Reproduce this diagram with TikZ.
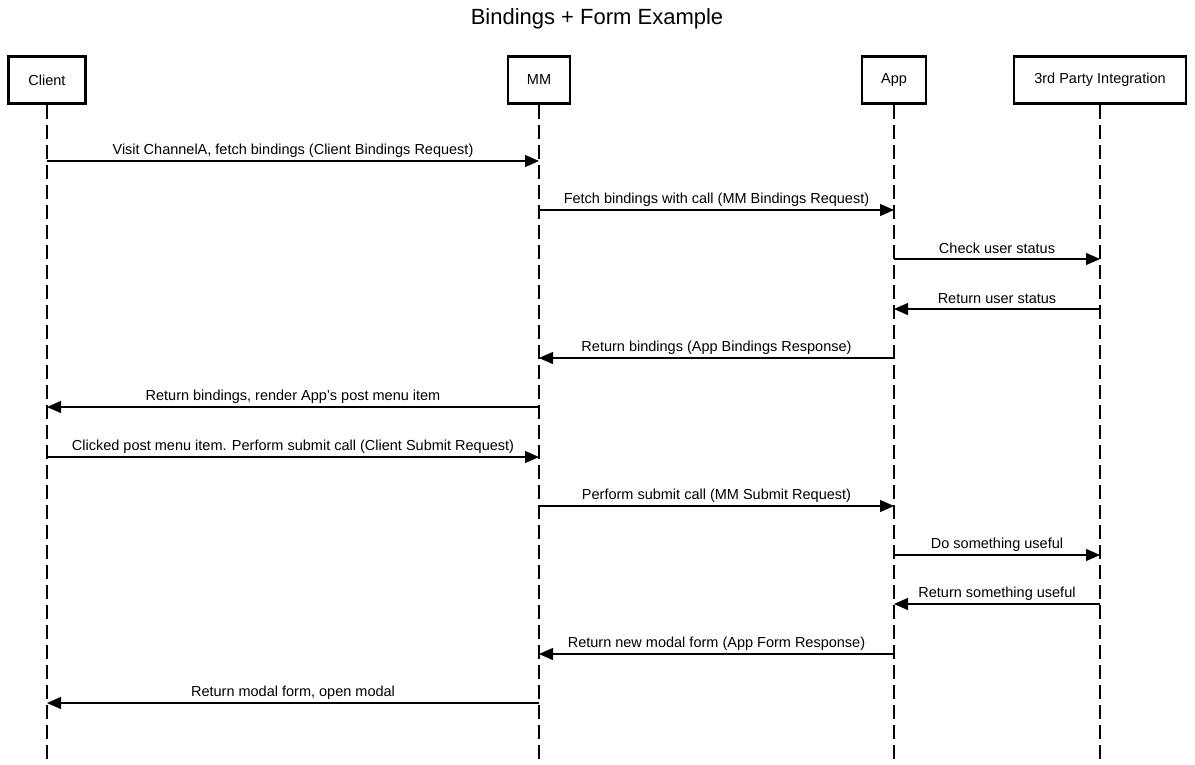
\documentclass[tikz,border=0pt]{standalone}
\usepackage{fontspec}
\setmainfont{Liberation Sans}
\usetikzlibrary{arrows.meta}
\begin{document}
\begin{tikzpicture}[x=1pt,y=-1pt,
  actor/.style={draw,line width=2.8pt,minimum height=47pt,inner sep=0pt,font=\fontsize{14.5}{17}\selectfont,fill=white},
  life/.style={line width=1.3pt,dash pattern=on 14pt off 6pt},
  msg/.style={line width=1.2pt,-{Triangle[length=14pt,width=12pt]}},
  lbl/.style={font=\fontsize{14.5}{17}\selectfont,inner sep=0pt}]
\useasboundingbox[fill=white] (0,0) rectangle (1195,764);
\node[font=\fontsize{22}{26}\selectfont] (title) at (597,19) {Bindings + Form Example};
\node[actor,minimum width=77pt] (client) at (47,80) {Client};
\node[actor,minimum width=62pt] (mm) at (539,80) {MM};
\node[actor,minimum width=64pt] (app) at (894,80) {App};
\node[actor,minimum width=172pt] (tpi) at (1100,80) {3rd Party Integration};
\coordinate (clientend) at (client.south |- 0,764);
\coordinate (mmend) at (mm.south |- 0,764);
\coordinate (append) at (app.south |- 0,764);
\coordinate (tpiend) at (tpi.south |- 0,764);
\draw[life] (client.south) -- (clientend);
\draw[life] (mm.south) -- (mmend);
\draw[life] (app.south) -- (append);
\draw[life] (tpi.south) -- (tpiend);
\newcommand{\msgline}[4]{%
  \draw[msg] (#1.south |- 0,#3) -- node[lbl,pos=0.5,yshift=10.5pt] {#4} (#2.south |- 0,#3);}
\msgline{client}{mm}{161}{Visit ChannelA, fetch bindings (Client Bindings Request)}
\msgline{mm}{app}{210}{Fetch bindings with call (MM Bindings Request)}
\msgline{app}{tpi}{259}{Check user status}
\msgline{tpi}{app}{309}{Return user status}
\msgline{app}{mm}{358}{Return bindings (App Bindings Response)}
\msgline{mm}{client}{407}{Return bindings, render App's post menu item}
\msgline{client}{mm}{457}{Clicked post menu item. Perform submit call (Client Submit Request)}
\msgline{mm}{app}{506}{Perform submit call (MM Submit Request)}
\msgline{app}{tpi}{555}{Do something useful}
\msgline{tpi}{app}{604}{Return something useful}
\msgline{app}{mm}{654}{Return new modal form (App Form Response)}
\msgline{mm}{client}{703}{Return modal form, open modal}
\end{tikzpicture}
\end{document}
